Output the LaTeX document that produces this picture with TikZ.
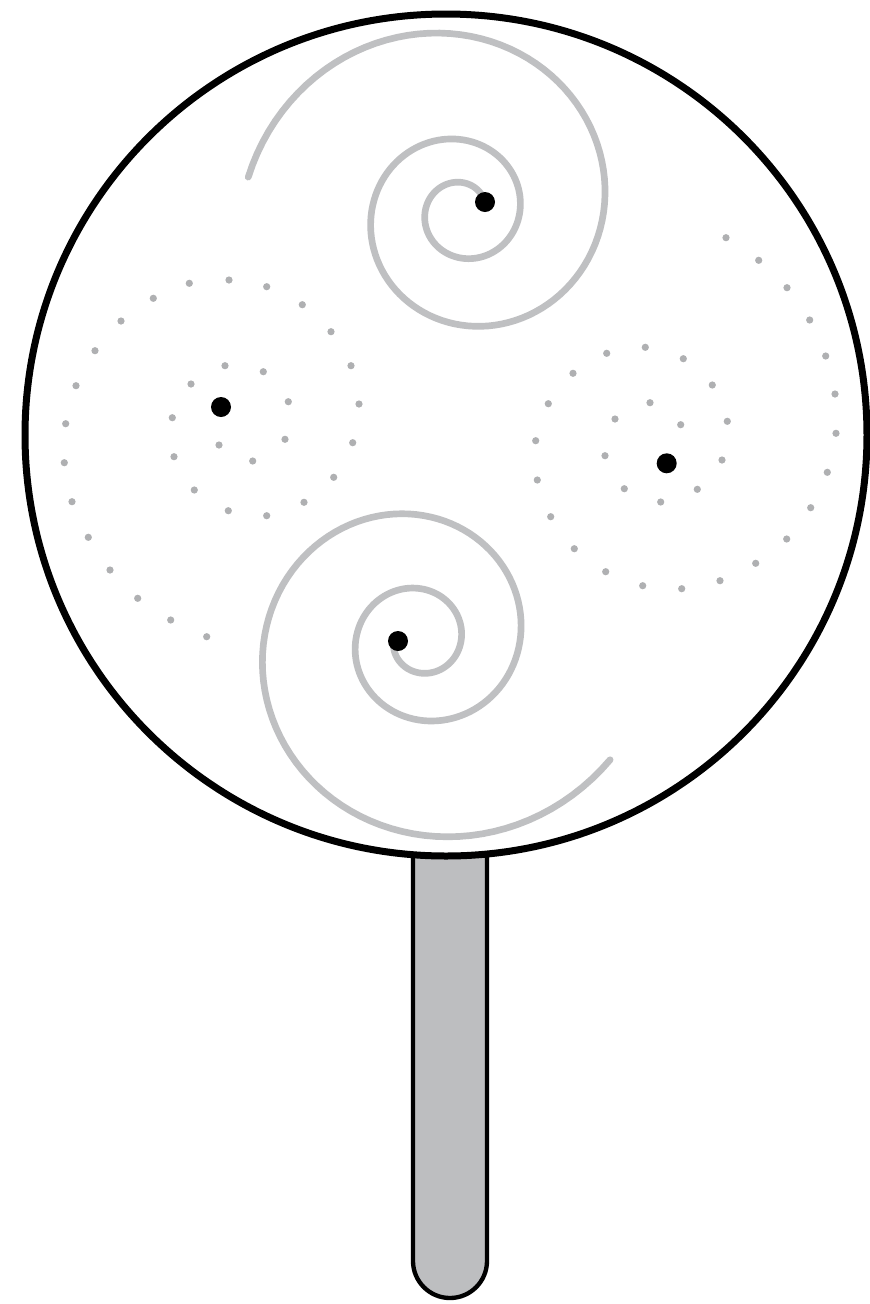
\documentclass[tikz,border=0pt]{standalone}
\definecolor{swirl}{RGB}{191,192,194}
\definecolor{speck}{RGB}{175,176,178}
\definecolor{stickgray}{RGB}{189,190,192}
\tikzset{
  swirlline/.style={draw=swirl, line width=2.0mm, line cap=round},
  candyedge/.style={line width=2.1mm},
}
\begin{document}
\begin{tikzpicture}[x=0.3mm,y=-0.3mm]
  \useasboundingbox (0,0) rectangle (869,1304);
  % stick
  \draw[line width=1.3mm, fill=stickgray] (413,850) -- (413,1261)
    arc[start angle=180, end angle=0, radius=37] -- (487,850);
  % candy
  \draw[candyedge, fill=white] (446,435) circle (421);
  % solid swirls
  \draw[swirlline] plot[domain=0.41:15.55, samples=260, variable=\t]
    ({462+23.6*exp(0.1426*\t)*cos(\t r)}, {212-23.6*exp(0.1426*\t)*sin(\t r)});
  \draw[swirlline] plot[domain=3.25:18.29, samples=260, variable=\t]
    ({420+16.96*exp(0.1413*\t)*cos(\t r)}, {640-16.96*exp(0.1413*\t)*sin(\t r)});
  % dotted swirls
  \foreach \x/\y in {206.7/636.7, 170.7/620, 137.7/598.3, 110/570, 88.3/537.3,
      72/501.7, 64.3/462.7, 65.7/423.7, 76/385.7, 95/350.7, 121/321,
      153.3/298.3, 189.3/283.3, 229/280, 266.7/286.7, 302.3/304.7, 331/331.7,
      351/365.7, 359/404, 352.7/442.7, 333.7/477.3, 304/502.3, 266.7/515.7,
      228.3/510.7, 194.3/490, 174/456.7, 172.3/417.7, 191/384, 225/365.7,
      263.3/371.7, 288.3/401.7, 285/439.3, 252.7/461, 219/445}
    \fill[speck] (\x,\y) circle (3.6);
  \foreach \x/\y in {726/237.7, 758.7/260.3, 787/287.7, 809.7/320, 825.7/356,
      835/394, 836/433.3, 827.3/472.3, 810.7/507.7, 786.7/539, 755.7/563.3,
      720/580.7, 681.7/588.7, 642.7/585.7, 605.7/571.7, 574.3/548.7,
      550.7/516.7, 537.3/480, 535.7/440.7, 548.3/403.7, 573/373.3,
      606.7/353.3, 645.3/347.3, 683.3/358.7, 712.3/385, 727.3/421.3,
      722/460, 697.3/489.3, 660.7/502, 624.3/488.7, 605/455.7, 615/419,
      650/402.7, 680.7/424.7}
    \fill[speck] (\x,\y) circle (3.6);
  % centres
  \coordinate (topeye) at (485,202);
  \coordinate (boteye) at (398,641);
  \coordinate (lefteye) at (221,407);
  \coordinate (righteye) at (666.7,463.3);
  \foreach \p in {topeye,boteye,lefteye,righteye} \fill (\p) circle (10);
\end{tikzpicture}
\end{document}
